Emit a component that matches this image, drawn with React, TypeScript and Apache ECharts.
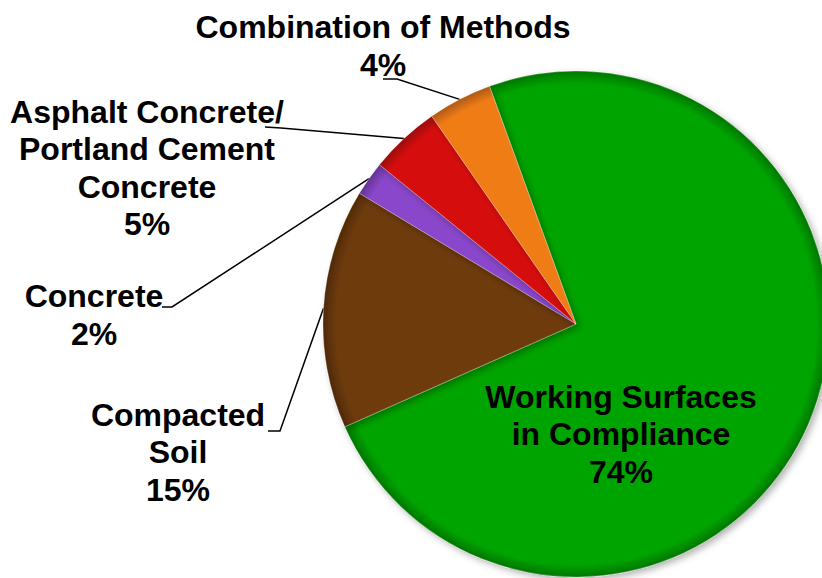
import React, { useEffect, useRef } from "react";
import * as echarts from "echarts";

const categories = [
  "Working Surfaces\nin Compliance",
  "Compacted\nSoil",
  "Concrete",
  "Asphalt Concrete/\nPortland Cement\nConcrete",
  "Combination of Methods",
];
const values = [73.9, 15.3, 2.2, 4.5, 4.1];
const colors = ["#05a405", "#6e3a08", "#8a47cb", "#d60d0d", "#f07c17"];

// label block centres and leader-line bends (layout, not data)
const labelPos = [
  { x: 621, y: 434 },
  { x: 178, y: 452 },
  { x: 94, y: 315 },
  { x: 147, y: 168 },
  { x: 383, y: 46 },
];
const leaderBends = [
  null,
  [[280, 431], [268, 431]],
  [[172, 307], [162, 307]],
  [[281, 128], [265, 127]],
  [[397, 79], [383, 79]],
];

function darken(hex: string, k: number) {
  const n = parseInt(hex.slice(1), 16);
  const r = Math.round(((n >> 16) & 255) * k);
  const g = Math.round(((n >> 8) & 255) * k);
  const b = Math.round((n & 255) * k);
  return `rgb(${r},${g},${b})`;
}

export default function App() {
  const ref = useRef<HTMLDivElement>(null);
  useEffect(() => {
    if (!ref.current) return;
    const chart = echarts.init(ref.current, undefined, { renderer: "svg" });
    const cx = 576;
    const cy = 324;
    const r = 253;
    const data = categories.map((name, i) => ({
      name,
      value: values[i],
      itemStyle: {
        color: {
          type: "radial",
          x: cx,
          y: cy,
          r: r,
          global: true,
          colorStops: [
            { offset: 0, color: colors[i] },
            { offset: 0.95, color: colors[i] },
            { offset: 1, color: darken(colors[i], 0.72) },
          ],
        },
      },
      label: i === 0 ? { position: "inside" } : undefined,
      labelLine: i === 0 ? { show: false } : undefined,
    }));
    chart.setOption({
      animation: false,
      backgroundColor: "#ffffff",
      series: [
        {
          type: "pie",
          center: [cx, cy],
          radius: r,
          startAngle: 110,
          clockwise: true,
          avoidLabelOverlap: false,
          data,
          itemStyle: {
            borderColor: "rgba(255,255,255,0.3)",
            borderWidth: 0.8,
            shadowBlur: 7,
            shadowOffsetX: 3,
            shadowOffsetY: 3,
            shadowColor: "rgba(0,0,0,0.3)",
          },
          label: {
            show: true,
            position: "outside",
            fontFamily: "Liberation Sans, Arial, sans-serif",
            fontWeight: "bold",
            fontSize: 32,
            lineHeight: 37.5,
            color: "#000000",
            align: "center",
            formatter: (p: any) => `${p.name}\n${Math.round(p.value)}%`,
          },
          labelLine: {
            show: true,
            lineStyle: { color: "#000000", width: 1.5 },
          },
          labelLayout: (params: any) => {
            const i = params.dataIndex;
            const pos = labelPos[i];
            const out: any = {
              x: pos.x,
              y: pos.y,
              align: "center",
              verticalAlign: "middle",
            };
            const bends = leaderBends[i];
            if (bends && params.labelLinePoints && params.labelLinePoints[0]) {
              out.labelLinePoints = [params.labelLinePoints[0], ...bends];
            }
            return out;
          },
        },
      ],
    });
    return () => chart.dispose();
  }, []);
  return (
    <div
      ref={ref}
      style={{ position: "absolute", left: 0, top: 0, width: 822, height: 578 }}
    />
  );
}
